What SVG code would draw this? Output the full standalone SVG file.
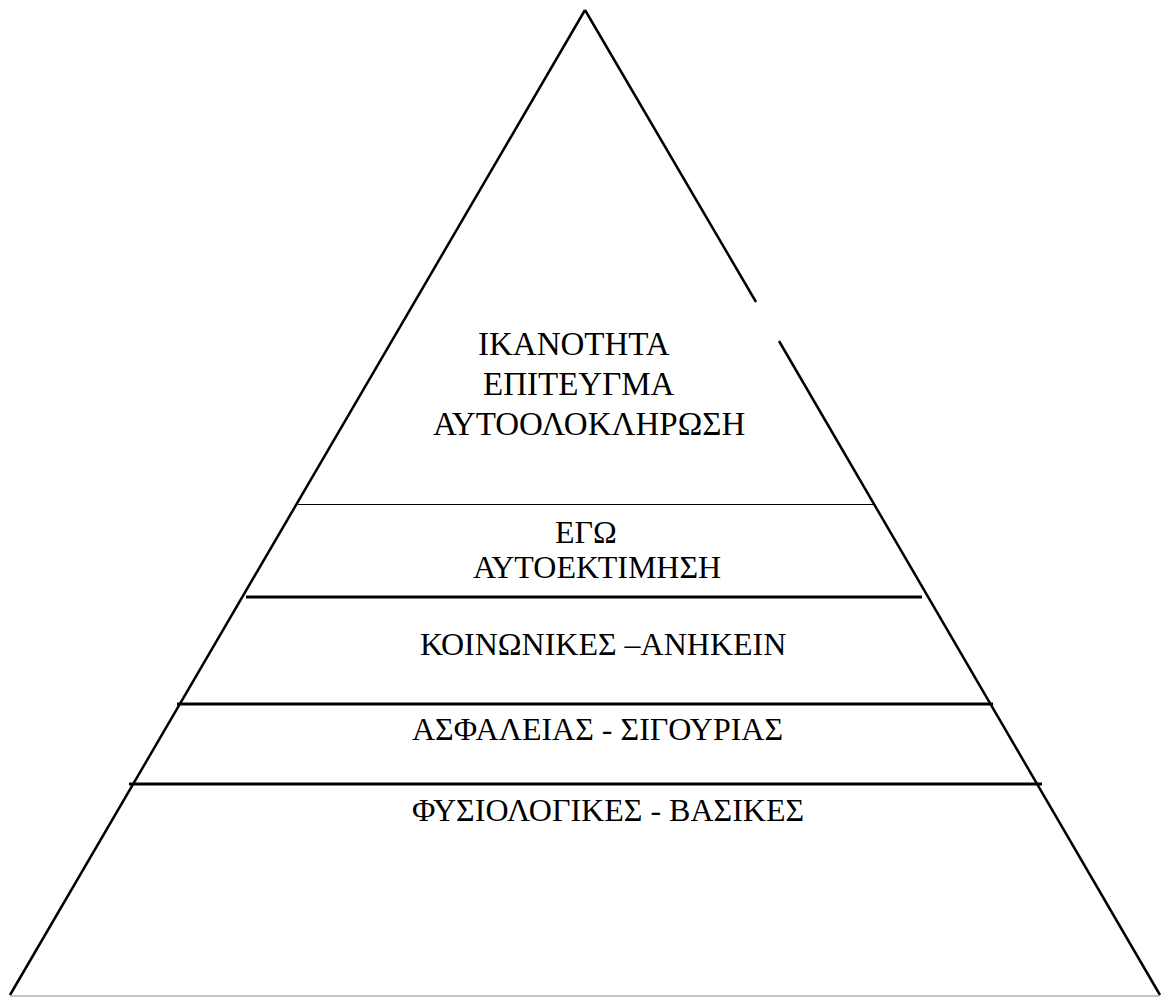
<svg xmlns="http://www.w3.org/2000/svg" width="1162" height="997" viewBox="0 0 1162 997">
<style>
.edge{stroke:#000;stroke-width:2.5;fill:none;stroke-linecap:butt}
.thin{stroke:#000;stroke-width:1.2}
.thick{stroke:#000;stroke-width:3.2}
.base{stroke:#b0b0b0;stroke-width:1.5}
.lbl{font-family:"Liberation Serif","Times New Roman",serif;font-size:32px;fill:#000}
.top{font-size:33px}
</style>
<rect x="0" y="0" width="1162" height="997" fill="#fff"/>
<g id="connectors">
<line class="edge" x1="10" y1="995" x2="585" y2="10"/>
<line class="edge" x1="585" y1="10" x2="756" y2="302"/>
<line class="edge" x1="779" y1="341" x2="1160" y2="995"/>
<line class="base" x1="10" y1="996" x2="1160" y2="996"/>
<line class="thin" x1="298" y1="504.5" x2="873" y2="504.5"/>
<line class="thick" x1="246" y1="597" x2="922" y2="597"/>
<line class="thick" x1="177" y1="704" x2="993" y2="704"/>
<line class="thick" x1="129" y1="784" x2="1042" y2="784"/>
</g>
<g id="level5">
<text class="lbl top" x="478" y="355">ΙΚΑΝΟΤΗΤΑ</text>
<text class="lbl top" x="483" y="395">ΕΠΙΤΕΥΓΜΑ</text>
<text class="lbl top" x="433" y="435">ΑΥΤΟΟΛΟΚΛΗΡΩΣΗ</text>
</g>
<g id="level4">
<text class="lbl" x="555" y="543">ΕΓΩ</text>
<text class="lbl" x="473" y="578">ΑΥΤΟΕΚΤΙΜΗΣΗ</text>
</g>
<g id="level3">
<text class="lbl" x="420" y="655">ΚΟΙΝΩΝΙΚΕΣ –ΑΝΗΚΕΙΝ</text>
</g>
<g id="level2">
<text class="lbl" x="412" y="740">ΑΣΦΑΛΕΙΑΣ - ΣΙΓΟΥΡΙΑΣ</text>
</g>
<g id="level1">
<text class="lbl" x="412" y="821">ΦΥΣΙΟΛΟΓΙΚΕΣ - ΒΑΣΙΚΕΣ</text>
</g>
</svg>
